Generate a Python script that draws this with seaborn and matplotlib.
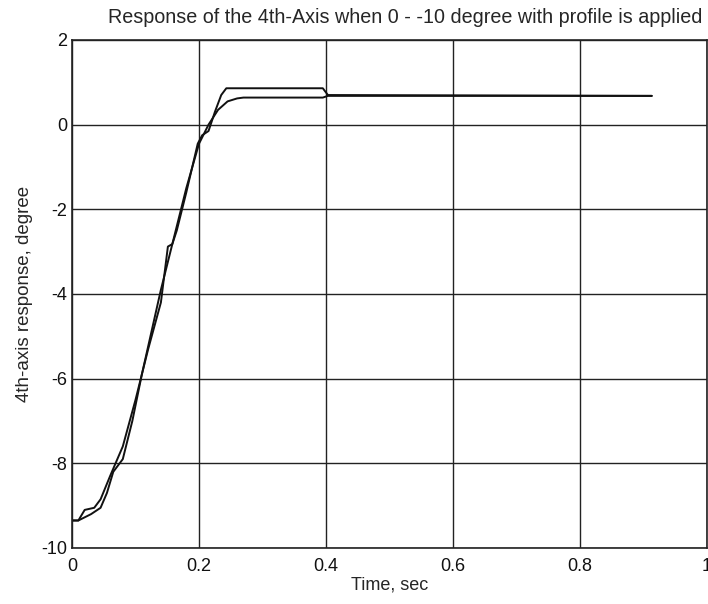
import matplotlib
matplotlib.use("Agg")
import matplotlib.pyplot as plt
import seaborn as sns
import pandas as pd

# --- data ---
t_a = [0.0, 0.01, 0.02, 0.035, 0.045, 0.06, 0.08, 0.10, 0.12, 0.14, 0.151, 0.158, 0.165,
       0.18, 0.198, 0.205, 0.215, 0.225, 0.235, 0.243, 0.395, 0.403, 0.913]
v_a = [-9.35, -9.35, -9.1, -9.05, -8.85, -8.3, -7.6, -6.5, -5.3, -4.2, -2.88, -2.82, -2.5,
       -1.6, -0.45, -0.25, -0.15, 0.3, 0.7, 0.86, 0.86, 0.70, 0.68]

t_b = [0.0, 0.01, 0.03, 0.045, 0.055, 0.065, 0.08, 0.095, 0.11, 0.125, 0.14, 0.16, 0.18,
       0.20, 0.215, 0.23, 0.245, 0.26, 0.27, 0.395, 0.403, 0.913]
v_b = [-9.35, -9.35, -9.2, -9.05, -8.7, -8.2, -7.9, -7.0, -5.9, -4.9, -3.9, -2.7, -1.5,
       -0.45, 0.0, 0.35, 0.55, 0.62, 0.64, 0.64, 0.68, 0.68]

x_ticks = [0, 0.2, 0.4, 0.6, 0.8, 1]
x_tick_labels = ["0", "0.2", "0.4", "0.6", "0.8", "1"]
y_ticks = [2, 0, -2, -4, -6, -8, -10]
y_tick_labels = ["2", "0", "-2", "-4", "-6", "-8", "-10"]

title = "Response of the 4th-Axis when 0 - -10 degree with profile is applied"
xlabel = "Time, sec"
ylabel = "4th-axis response, degree"

sns.set_style("white")
plt.rcParams["font.family"] = ["Liberation Sans", "DejaVu Sans"]
plt.rcParams["axes.unicode_minus"] = False

df = pd.concat([
    pd.DataFrame({"t": t_a, "v": v_a, "series": "profile"}),
    pd.DataFrame({"t": t_b, "v": v_b, "series": "response"}),
])

fig = plt.figure(figsize=(7.08, 6.04), dpi=100)
ax = fig.add_axes([72/708, 56/604, 635/708, 508/604])

sns.lineplot(data=df, x="t", y="v", hue="series", palette=["#111111", "#111111"],
             estimator=None, sort=False, legend=False, linewidth=1.4, ax=ax)

ax.set_xlim(0, 1)
ax.set_ylim(-10, 2)
ax.set_xticks(x_ticks)
ax.set_xticklabels(x_tick_labels)
ax.set_yticks(y_ticks)
ax.set_yticklabels(y_tick_labels)
ax.grid(True, color="#222222", linewidth=1.0, linestyle="-")
ax.set_axisbelow(True)
for s in ax.spines.values():
    s.set_color("#222222")
    s.set_linewidth(1.2)
ax.tick_params(axis="both", direction="in", length=4, labelsize=13, colors="#111111")
ax.tick_params(axis="x", pad=7)
ax.set_title(title, fontsize=14.2, pad=12, x=0.525)
ax.set_xlabel(xlabel, fontsize=13, labelpad=1)
ax.set_ylabel(ylabel, fontsize=13.5, labelpad=6)

fig.savefig("out.png", dpi=100)
